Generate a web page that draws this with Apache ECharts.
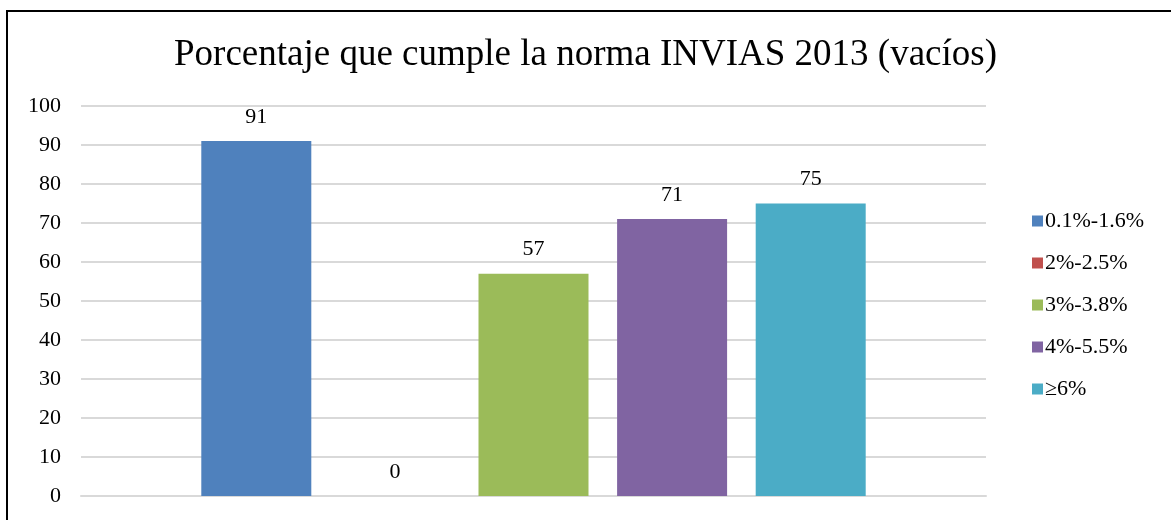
<!DOCTYPE html>
<html>
<head>
<meta charset="utf-8">
<script src="https://cdn.jsdelivr.net/npm/echarts@6/dist/echarts.min.js"></script>
<style>
  html, body { margin: 0; padding: 0; background: #fff; }
  #frame { position: absolute; left: 6px; top: 10px; width: 1180px; height: 530px; border: 2px solid #000; box-sizing: border-box; }
  #main { position: absolute; left: 0; top: 0; width: 1171px; height: 520px; }
</style>
</head>
<body>
<div id="frame"></div>
<div id="main"></div>
<script>
// data
const categories = [''];
const seriesNames = ['0.1%-1.6%', '2%-2.5%', '3%-3.8%', '4%-5.5%', '≥6%'];
const seriesValues = [91, 0, 57, 71, 75];
const seriesColors = ['#4f81bd', '#c0504d', '#9bbb59', '#8064a2', '#4bacc6'];
const yTicks = [0, 100, 10]; // min, max, interval

const font = '"Liberation Serif", "Times New Roman", serif';

const myChart = echarts.init(document.getElementById('main'));

const options = {
    animation: false,
    title: {
        text: 'Porcentaje que cumple la norma INVIAS 2013 (vacíos)',
        left: 'center',
        top: 32,
        textStyle: {
            fontFamily: font,
            fontSize: 37,
            fontWeight: 'normal',
            color: '#000'
        }
    },
    legend: {
        orient: 'vertical',
        left: 1027,
        top: 205,
        itemWidth: 11,
        itemHeight: 11,
        itemGap: 20,
        icon: 'rect',
        textStyle: {
            fontFamily: font,
            fontSize: 22,
            color: '#000',
            padding: [0, 0, 0, -3]
        },
        data: seriesNames
    },
    grid: {
        left: 81,
        right: 185,
        top: 106,
        bottom: 24
    },
    xAxis: {
        type: 'category',
        data: categories,
        axisLine: { lineStyle: { color: '#d9d9d9', width: 2 } },
        axisTick: { show: false },
        axisLabel: { show: false }
    },
    yAxis: {
        type: 'value',
        min: yTicks[0],
        max: yTicks[1],
        interval: yTicks[2],
        axisLine: { show: false },
        axisTick: { show: false },
        axisLabel: {
            fontFamily: font,
            fontSize: 22,
            color: '#000',
            margin: 20
        },
        splitLine: { lineStyle: { color: '#d9d9d9', width: 2 } }
    },
    series: seriesNames.map((name, i) => ({
        name: name,
        type: 'bar',
        data: [seriesValues[i]],
        barWidth: 110,
        barGap: '26%',
        itemStyle: { color: seriesColors[i] },
        label: {
            show: true,
            position: 'top',
            distance: 13,
            fontFamily: font,
            fontSize: 22,
            color: '#000'
        }
    }))
};

myChart.setOption(options);
</script>
</body>
</html>
